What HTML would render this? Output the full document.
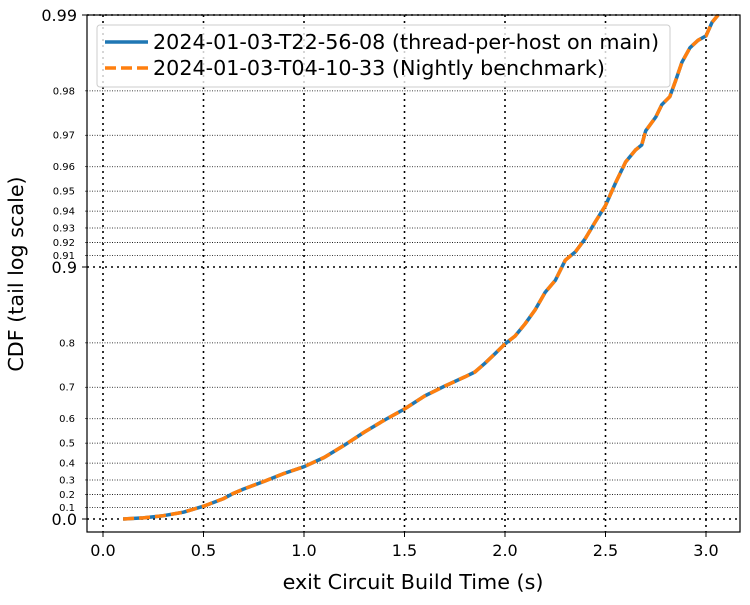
<!DOCTYPE html>
<html><head><meta charset="utf-8"><style>
body{margin:0;background:#fff;}
svg text{font-family:"DejaVu Sans","Liberation Sans",sans-serif;}
</style></head><body>
<svg id="chart" width="750" height="600" xmlns="http://www.w3.org/2000/svg">
<rect width="750" height="600" fill="#fff"/>
<g id="grid"></g><g id="series"></g><g id="axes"></g>
<g id="legend">
<rect x="97" y="25" width="573" height="62" rx="3" fill="#fff" fill-opacity="0.8" stroke="#ccc"/>
<line x1="105" y1="42" x2="148" y2="42" stroke="#1f77b4" stroke-width="3.5"/>
<text x="153" y="49" font-size="20.7">2024-01-03-T22-56-08 (thread-per-host on main)</text>
<line x1="105" y1="68" x2="148" y2="68" stroke="#ff7f0e" stroke-width="3.5" stroke-dasharray="11,5"/>
<text x="153" y="75" font-size="20.7">2024-01-03-T04-10-33 (Nightly benchmark)</text>
</g>
<text x="413" y="589" font-size="20.7" text-anchor="middle">exit Circuit Build Time (s)</text>
<text transform="translate(23,274) rotate(-90)" font-size="20.7" text-anchor="middle">CDF (tail log scale)</text>
</svg>
<script>
const xValues=[0.1,0.2,0.3,0.4,0.5,0.6,0.65,0.7,0.8,0.9,1.0,1.1,1.2,1.3,1.4,1.5,1.6,1.7,1.8,1.85,1.9,1.95,2.0,2.05,2.1,2.15,2.2,2.25,2.3,2.35,2.4,2.45,2.5,2.55,2.6,2.65,2.68,2.7,2.75,2.78,2.82,2.85,2.88,2.92,2.96,3.0,3.03,3.06];
const seriesThread=[0.0,0.01,0.03,0.06,0.11,0.17,0.21,0.24,0.29,0.34,0.38,0.43,0.49,0.548,0.595,0.634,0.675,0.703,0.727,0.739,0.759,0.779,0.798,0.812,0.832,0.852,0.874,0.887,0.906,0.913,0.923,0.934,0.943,0.9536,0.9617,0.9657,0.9672,0.9712,0.9746,0.9773,0.9789,0.9819,0.9846,0.9865,0.9874,0.9879,0.9893,0.990];
const seriesNightly=[0.0,0.01,0.03,0.06,0.11,0.17,0.21,0.24,0.29,0.34,0.38,0.43,0.49,0.548,0.595,0.634,0.675,0.703,0.727,0.739,0.759,0.779,0.798,0.812,0.832,0.852,0.874,0.887,0.906,0.913,0.923,0.934,0.943,0.9536,0.9617,0.9657,0.9672,0.9712,0.9746,0.9773,0.9789,0.9819,0.9846,0.9865,0.9874,0.9879,0.9893,0.990];
const xTicks=[0,0.5,1,1.5,2,2.5,3];
const xTickLabels=["0.0","0.5","1.0","1.5","2.0","2.5","3.0"];
const yMajor=[0,0.9,0.99];
const yMajorLabels=["0.0","0.9","0.99"];
const yMinor=[0.1,0.2,0.3,0.4,0.5,0.6,0.7,0.8,0.91,0.92,0.93,0.94,0.95,0.96,0.97,0.98];
const yMinorLabels=["0.1","0.2","0.3","0.4","0.5","0.6","0.7","0.8","0.91","0.92","0.93","0.94","0.95","0.96","0.97","0.98"];

const L=87,R=740,T=15,B=532;
const sx=v=>103+v*201;
const sy=p=>519-(-Math.log10(Math.max(1-p,1e-9)))*252;
const NS="http://www.w3.org/2000/svg";
function mk(parent,tag,attrs){const e=document.createElementNS(NS,tag);for(const k in attrs)e.setAttribute(k,attrs[k]);parent.appendChild(e);return e;}
const grid=document.getElementById('grid'),axes=document.getElementById('axes'),ser=document.getElementById('series');

yMinor.forEach((v,i)=>{const y=sy(v);
 const g=mk(grid,'line',{x1:L,x2:R,y1:y,y2:y,stroke:'#000','stroke-width':0.8,'stroke-dasharray':'1,1.5'});
 
 
 mk(axes,'line',{x1:L-2,x2:L,y1:y,y2:y,stroke:'#000','stroke-width':0.6});
 const t=mk(axes,'text',{x:L-12,y:y+3.5,'font-size':10,'text-anchor':'end'});t.textContent=yMinorLabels[i];
 
 
});
yMajor.forEach((v,i)=>{const y=sy(v);
 const g=mk(grid,'line',{x1:L,x2:R,y1:y,y2:y,stroke:'#000','stroke-width':1.6,'stroke-dasharray':'2,4'});
 
 
 mk(axes,'line',{x1:L-5,x2:L,y1:y,y2:y,stroke:'#000','stroke-width':1});
 const t=mk(axes,'text',{x:L-10,y:y+6,'font-size':16,'text-anchor':'end'});t.textContent=yMajorLabels[i];
 
 
});
xTicks.forEach((v,i)=>{const x=sx(v);
 const g=mk(grid,'line',{x1:x,x2:x,y1:T,y2:B,stroke:'#000','stroke-width':1.6,'stroke-dasharray':'2,4'});
 
 
 mk(axes,'line',{x1:x,x2:x,y1:B,y2:B+5,stroke:'#000','stroke-width':1});
 const t=mk(axes,'text',{x:x,y:B+24,'font-size':16,'text-anchor':'middle'});t.textContent=xTickLabels[i];
 
 
});
const frame=mk(axes,'rect',{x:L,y:T,width:R-L,height:B-T,fill:'none',stroke:'#000','stroke-width':1.2});



function pts(ys){return xValues.map((x,i)=>sx(x).toFixed(1)+','+sy(ys[i]).toFixed(1)).join(' ');}
const l1=mk(ser,'polyline',{points:pts(seriesThread),fill:'none',stroke:'#1f77b4','stroke-width':3.5,'stroke-linejoin':'round'});


const l2=mk(ser,'polyline',{points:pts(seriesNightly),fill:'none',stroke:'#ff7f0e','stroke-width':3.5,'stroke-dasharray':'11,5'});


</script>
</body></html>
